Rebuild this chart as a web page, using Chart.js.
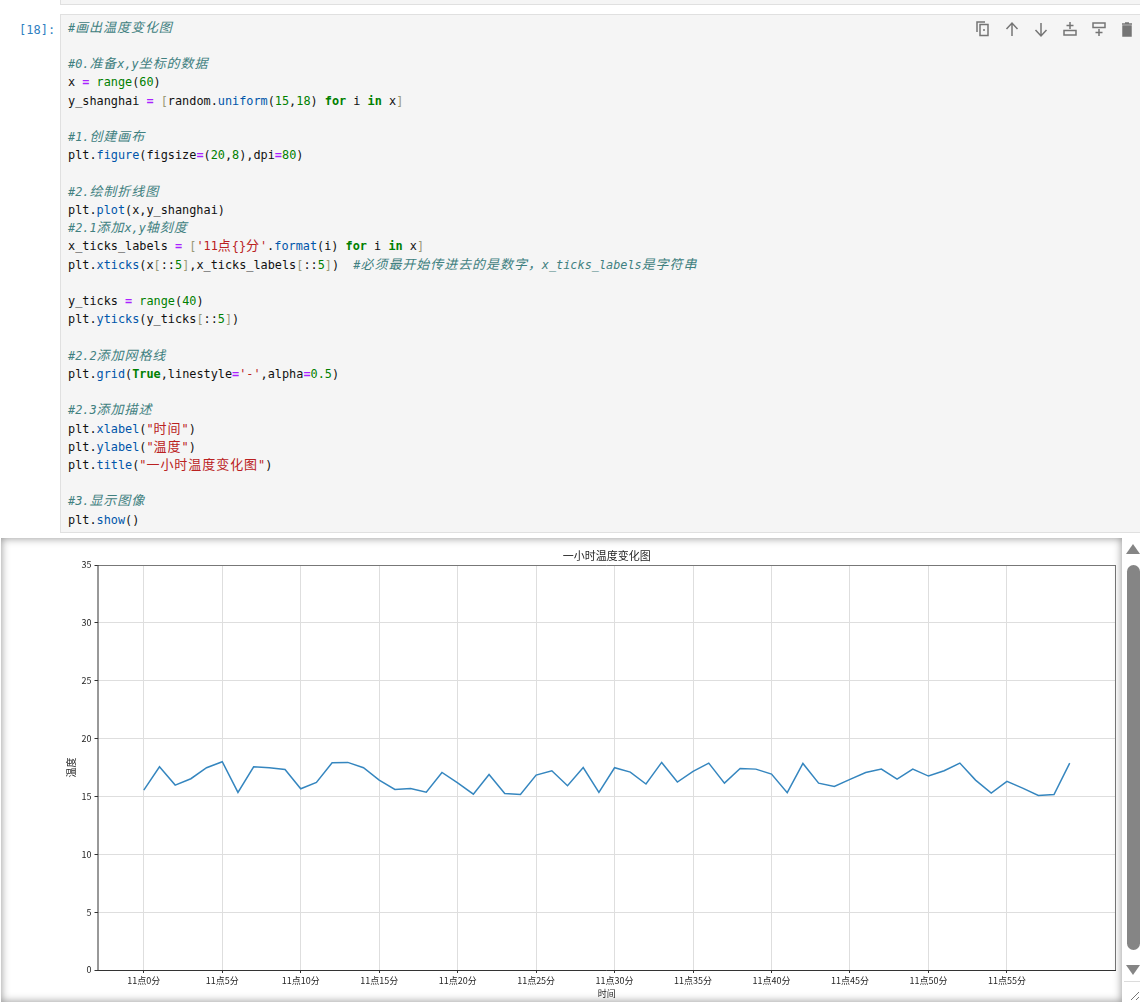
<!DOCTYPE html>
<html>
<head>
<meta charset="utf-8">
<title>一小时温度变化图</title>
<script src="https://cdn.jsdelivr.net/npm/chart.js@4/dist/chart.umd.js"></script>
<style>
html, body { margin: 0; padding: 0; background: #fff; }
body { width: 1140px; height: 1003px; position: relative; overflow: hidden; }
.prev-cell { position: absolute; left: 60px; top: -10px; width: 1090px; height: 13px; background: #f5f5f5; border: 1px solid #e0e0e0; }
.prompt { position: absolute; left: 19px; top: 21px; font: 12px/18px "DejaVu Sans Mono", monospace; color: #307fc1; }
.cell { position: absolute; left: 60px; top: 14px; width: 1090px; height: 517px; background: #f5f5f5; border: 1px solid #e0e0e0; }
pre { position: absolute; left: 68px; top: 18.7px; margin: 0; font: 11.85px/18.22px "DejaVu Sans Mono", monospace; color: #111; }
pre .cjk { font-family: "Noto Sans CJK SC", sans-serif; font-size: 13px; letter-spacing: 0.95px; line-height: 1; }
.cm { color: #408080; font-style: italic; }
.kw { color: #008000; font-weight: bold; }
.bi { color: #008000; }
.nu { color: #008000; }
.st { color: #ba2121; }
.op { color: #aa22ff; font-weight: bold; }
.pr { color: #0055aa; }
.br { color: #999977; }
.tools { position: absolute; left: 975px; top: 20px; }
.output { position: absolute; left: 1px; top: 538px; width: 1121px; height: 464px; background: #fff; }
.output-shadow { position: absolute; left: 1px; top: 538px; width: 1121px; height: 464px; box-shadow: inset 0 0 8px rgba(0,0,0,.45); pointer-events: none; }
#chart { position: absolute; left: 0; top: 540px; }
.thumb { position: absolute; left: 1127px; top: 565px; width: 13px; height: 385px; background: #858585; border-radius: 7px; }
.arrow-up, .arrow-down { position: absolute; left: 1126px; width: 0; height: 0; border-left: 7px solid transparent; border-right: 7px solid transparent; }
.arrow-up { top: 544px; border-bottom: 10px solid #858585; }
.arrow-down { top: 965px; border-top: 10px solid #858585; }
.rule { position: absolute; left: 1124px; top: 981px; width: 16px; height: 1px; background: #dcdcdc; }
.grip { position: absolute; left: 1130px; top: 988px; }
</style>
</head>
<body>
<div class="prev-cell"></div>
<div class="prompt">[18]:</div>
<div class="cell"></div>
<pre id="code"><span class="cm">#画出温度变化图</span>

<span class="cm">#0.准备x,y坐标的数据</span>
x <span class="op">=</span> <span class="bi">range</span>(<span class="nu">60</span>)
y_shanghai <span class="op">=</span> <span class="br">[</span>random.<span class="pr">uniform</span>(<span class="nu">15</span>,<span class="nu">18</span>) <span class="kw">for</span> i <span class="kw">in</span> x<span class="br">]</span>

<span class="cm">#1.创建画布</span>
plt.<span class="pr">figure</span>(figsize<span class="op">=</span>(<span class="nu">20</span>,<span class="nu">8</span>),dpi<span class="op">=</span><span class="nu">80</span>)

<span class="cm">#2.绘制折线图</span>
plt.<span class="pr">plot</span>(x,y_shanghai)
<span class="cm">#2.1添加x,y轴刻度</span>
x_ticks_labels <span class="op">=</span> <span class="br">[</span><span class="st">'11点{}分'</span>.<span class="pr">format</span>(i) <span class="kw">for</span> i <span class="kw">in</span> x<span class="br">]</span>
plt.<span class="pr">xticks</span>(x<span class="br">[</span>::<span class="nu">5</span><span class="br">]</span>,x_ticks_labels<span class="br">[</span>::<span class="nu">5</span><span class="br">]</span>)  <span class="cm">#必须最开始传进去的是数字，x_ticks_labels是字符串</span>

y_ticks <span class="op">=</span> <span class="bi">range</span>(<span class="nu">40</span>)
plt.<span class="pr">yticks</span>(y_ticks<span class="br">[</span>::<span class="nu">5</span><span class="br">]</span>)

<span class="cm">#2.2添加网格线</span>
plt.<span class="pr">grid</span>(<span class="kw">True</span>,linestyle<span class="op">=</span><span class="st">'-'</span>,alpha<span class="op">=</span><span class="nu">0.5</span>)

<span class="cm">#2.3添加描述</span>
plt.<span class="pr">xlabel</span>(<span class="st">"时间"</span>)
plt.<span class="pr">ylabel</span>(<span class="st">"温度"</span>)
plt.<span class="pr">title</span>(<span class="st">"一小时温度变化图"</span>)

<span class="cm">#3.显示图像</span>
plt.<span class="pr">show</span>()</pre>

<svg class="tools" width="165" height="20" viewBox="0 0 165 20" fill="none" stroke="#757575" stroke-width="1.5">
  <!-- copy -->
  <path d="M2 12V2h8"/><rect x="5" y="4.5" width="8" height="11"/><circle cx="9" cy="10" r="1" fill="#757575" stroke="none"/>
  <!-- up -->
  <path d="M37 16V3M31.5 9L37 3l5.500 6"/>
  <!-- down -->
  <path d="M66 3v13M60.500 10l5.500 6 5.500-6"/>
  <!-- insert above -->
  <rect x="89" y="10.500" width="12" height="4.500"/><path d="M95 2v7M91.500 5.500h7"/>
  <!-- insert below -->
  <rect x="118" y="3" width="12" height="4.500"/><path d="M124 9v7M120.500 12.500h7"/>
  <!-- delete -->
  <path d="M148 6h8v10h-8z" fill="#757575"/><path d="M147 4h10M150 3h4"/>
</svg>

<div class="output"></div>
<canvas id="chart" width="1122" height="460" style="width:1122px;height:460px"></canvas>
<div class="output-shadow"></div>
<div class="arrow-up"></div>
<div class="thumb"></div>
<div class="arrow-down"></div>
<div class="rule"></div>
<svg class="grip" width="10" height="15" fill="none" stroke="#777" stroke-width="1"><path d="M1 12L9 4M6 12l3-3"/></svg>

<script>
const minutes = [0,1,2,3,4,5,6,7,8,9,10,11,12,13,14,15,16,17,18,19,20,21,22,23,24,25,26,27,28,29,30,31,32,33,34,35,36,37,38,39,40,41,42,43,44,45,46,47,48,49,50,51,52,53,54,55,56,57,58,59];
const temperature = [
    15.55,17.56,15.98,16.53,17.48,18.0,15.35,17.56,17.48,17.33,
    15.66,16.21,17.91,17.94,17.48,16.41,15.6,15.69,15.37,17.07,
    16.18,15.2,16.9,15.26,15.17,16.84,17.22,15.92,17.5,15.35,
    17.48,17.1,16.07,17.94,16.24,17.16,17.88,16.15,17.42,17.36,
    16.93,15.32,17.85,16.15,15.86,16.47,17.07,17.36,16.5,17.36,
    16.76,17.22,17.88,16.41,15.29,16.3,15.72,15.09,15.17,17.88
];
const xTicks = [0,5,10,15,20,25,30,35,40,45,50,55];
const xTickLabels = ["11点0分","11点5分","11点10分","11点15分","11点20分","11点25分","11点30分","11点35分","11点40分","11点45分","11点50分","11点55分"];
const yTicks = [0,5,10,15,20,25,30,35];

// widen the CJK runs in the code so they sit on two monospace cells
const code = document.getElementById("code");
code.innerHTML = code.innerHTML.replace(/[\u4e00-\u9fff\uff0c]+/g, m => '<span class="cjk">' + m + '</span>');

const plotFont = '"Noto Sans CJK SC", sans-serif';
const inkColor = "#262626";

// axes frame on all four sides
const frame = {
    id: "frame",
    afterDatasetsDraw(chart) {
        const a = chart.chartArea;
        const c = chart.ctx;
        c.save();
        c.lineWidth = 1;
        c.strokeStyle = "#777";
        c.beginPath();
        c.moveTo(a.left, a.top + 0.5);
        c.lineTo(a.right, a.top + 0.5);
        c.moveTo(a.right - 0.5, a.top);
        c.lineTo(a.right - 0.5, a.bottom);
        c.stroke();
        c.strokeStyle = "#333";
        c.beginPath();
        c.moveTo(a.left + 0.5, a.top);
        c.lineTo(a.left + 0.5, a.bottom);
        c.moveTo(a.left, a.bottom + 0.5);
        c.lineTo(a.right, a.bottom + 0.5);
        c.stroke();
        c.restore();
    }
};

new Chart(document.getElementById("chart"), {
    type: "line",
    data: {
        datasets: [{
            data: minutes.map((m, i) => ({ x: m, y: temperature[i] })),
            borderColor: "#3586bf",
            borderWidth: 1.5,
            pointRadius: 0,
            tension: 0
        }]
    },
    options: {
        responsive: false,
        animation: false,
        devicePixelRatio: 1,
        layout: { padding: { left: 60, right: 6, top: 0, bottom: 0 } },
        plugins: {
            legend: { display: false },
            tooltip: { enabled: false },
            title: {
                display: true,
                fullSize: false,
                text: "一小时温度变化图",
                color: inkColor,
                font: { family: plotFont, size: 11, weight: "normal" },
                padding: { top: 9, bottom: 2.8 }
            }
        },
        scales: {
            x: {
                type: "linear",
                min: -2.95,
                max: 61.95,
                afterBuildTicks: axis => { axis.ticks = xTicks.map(v => ({ value: v })); },
                afterFit: axis => { axis.height = 30; },
                border: { display: false },
                grid: { color: "#dedede", lineWidth: 1, tickLength: 3, tickColor: "#333" },
                ticks: {
                    autoSkip: false,
                    maxRotation: 0,
                    padding: 2,
                    color: inkColor,
                    font: { family: plotFont, size: 9 },
                    callback: value => xTickLabels[xTicks.indexOf(value)]
                },
                title: {
                    display: true,
                    text: "时间",
                    color: inkColor,
                    font: { family: plotFont, size: 9 },
                    padding: { top: 2, bottom: 1 }
                }
            },
            y: {
                min: 0,
                max: 35,
                afterBuildTicks: axis => { axis.ticks = yTicks.map(v => ({ value: v })); },
                afterFit: axis => { axis.width = 37.5; },
                border: { display: false },
                grid: { color: "#dedede", lineWidth: 1, tickLength: 3, tickColor: "#333" },
                ticks: {
                    padding: 3,
                    color: inkColor,
                    font: { family: plotFont, size: 9 }
                },
                title: {
                    display: true,
                    text: "温度",
                    color: inkColor,
                    font: { family: plotFont, size: 10 },
                    padding: { top: 5, bottom: 0 }
                }
            }
        }
    },
    plugins: [frame]
});
</script>
</body>
</html>
